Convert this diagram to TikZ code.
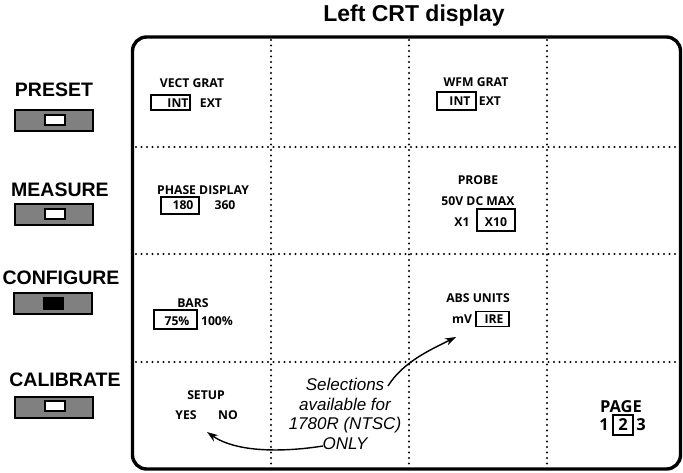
\documentclass[tikz,border=0pt]{standalone}
\usepackage{fontspec}
\setmainfont{Liberation Sans}
\newfontfamily\cellfont{Open Sans}
\usetikzlibrary{arrows.meta}
\tikzset{
  cell/.style={font=\cellfont\bfseries\fontsize{12.2}{14}\selectfont, inner sep=0pt},
  bigcell/.style={font=\cellfont\bfseries\fontsize{16.5}{18}\selectfont, inner sep=0pt},
  lbl/.style={font=\bfseries\fontsize{19.5}{21}\selectfont, inner sep=0pt},
  selbox/.style={draw, line width=1.4pt, inner sep=0pt},
  btn/.style={draw, line width=2pt, fill=black!50, minimum width=78pt, minimum height=21pt, inner sep=0pt},
  knob/.style={draw, line width=1.3pt, fill=white, minimum width=20pt, minimum height=10pt, inner sep=0pt},
  knobon/.style={fill=black, minimum width=21pt, minimum height=13pt, inner sep=0pt},
  gridline/.style={line width=2.1pt, dash pattern=on 0pt off 5.5pt, line cap=round},
  screen/.style={line width=3.4pt, rounded corners=14pt},
  arr/.style={line width=1.4pt, -{Stealth[length=11pt,width=7.5pt]}},
  note/.style={font=\itshape\fontsize{17}{19.5}\selectfont, align=center, inner sep=0pt}
}
\begin{document}
\begin{tikzpicture}[x=1pt,y=-1pt]
\useasboundingbox (0,0) rectangle (683,473);
% title
\node[font=\bfseries\fontsize{23}{25}\selectfont, anchor=base, inner sep=0pt] (title) at (414,22) {Left CRT display};
% grid
\draw[gridline] (271,40) -- (271,467);
\draw[gridline] (409,40) -- (409,467);
\draw[gridline] (547,40) -- (547,467);
\draw[gridline] (136,147) -- (678,147);
\draw[gridline] (136,254) -- (678,254);
\draw[gridline] (136,362) -- (678,362);
% screen border
\draw[screen] (132.5,250) -- (132.5,37) -- (680.5,37) -- (680.5,469) -- (132.5,469) -- cycle;
% left buttons
\node[lbl] (preset) at (54,90) {PRESET};
\node[btn] (presetbtn) at (54,121) {};
\node[knob] (presetknob) at (55,120) {};
\node[lbl] (measure) at (60,190) {MEASURE};
\node[btn] (measurebtn) at (54,215) {};
\node[knob] (measureknob) at (55,214) {};
\node[lbl] (configure) at (61,278) {CONFIGURE};
\node[btn] (configurebtn) at (53,303) {};
\node[knobon] (configureknob) at (53,303) {};
\node[lbl] (calibrate) at (65,380) {CALIBRATE};
\node[btn] (calibratebtn) at (54,407) {};
\node[knob] (calibrateknob) at (55,406) {};
% cell 1
\node[cell] (vect) at (192,83) {VECT GRAT};
\node[selbox, minimum width=39pt, minimum height=15pt] (vectbox) at (170.5,102.5) {};
\node[cell] (vectint) at (178,103) {INT};
\node[cell] (vectext) at (211,103) {EXT};
% cell 2
\node[cell] (wfm) at (476,82) {WFM GRAT};
\node[selbox, minimum width=39pt, minimum height=18pt] (wfmbox) at (456.5,101) {};
\node[cell] (wfmint) at (460,101) {INT};
\node[cell] (wfmext) at (490,101) {EXT};
% cell 3
\node[cell] (phase) at (203,190) {PHASE DISPLAY};
\node[selbox, minimum width=38pt, minimum height=17pt] (phasebox) at (180,205.5) {};
\node[cell] (p180) at (183,205.5) {180};
\node[cell] (p360) at (225,205.5) {360};
% cell 4
\node[cell] (probe) at (478,180) {PROBE};
\node[cell] (max) at (478,201) {50V DC MAX};
\node[selbox, minimum width=38pt, minimum height=22pt] (x10box) at (496,220) {};
\node[cell] (x1) at (462,222) {X1};
\node[cell] (x10) at (496,222) {X10};
% cell 5
\node[cell] (bars) at (193,303) {BARS};
\node[selbox, minimum width=43pt, minimum height=19pt] (barsbox) at (175.5,319.5) {};
\node[cell] (b75) at (177,321) {75\%};
\node[cell] (b100) at (217,321) {100\%};
% cell 6
\node[cell] (abs) at (478,298) {ABS UNITS};
\node[cell] (mv) at (462,319) {mV};
\node[selbox, minimum width=33pt, minimum height=15pt] (irebox) at (492.5,319) {};
\node[cell] (ire) at (494,319) {IRE};
% cell 7
\node[cell] (setup) at (206,395) {SETUP};
\node[cell] (yes) at (186,415) {YES};
\node[cell] (no) at (228,415) {NO};
% cell 8
\node[bigcell] (page) at (621,407) {PAGE};
\node[selbox, minimum width=20pt, minimum height=20pt] (pagebox) at (623,425) {};
\node[bigcell] (pg1) at (604,425) {1};
\node[bigcell] (pg2) at (623,425) {2};
\node[bigcell] (pg3) at (641,425) {3};
% note and arrows
\node[note] (sel) at (345,414) {Selections\\available for\\1780R (NTSC)\\ONLY};
\coordinate (a1s) at (388,386);
\coordinate (a1e) at (456,337);
\coordinate (a2s) at (323,446);
\coordinate (a2e) at (207,432);
\draw[arr] (a1s) .. controls (403,362) and (430,350) .. (a1e);
\draw[arr] (a2s) .. controls (285,452) and (237,453) .. (a2e);
\end{tikzpicture}
\end{document}
